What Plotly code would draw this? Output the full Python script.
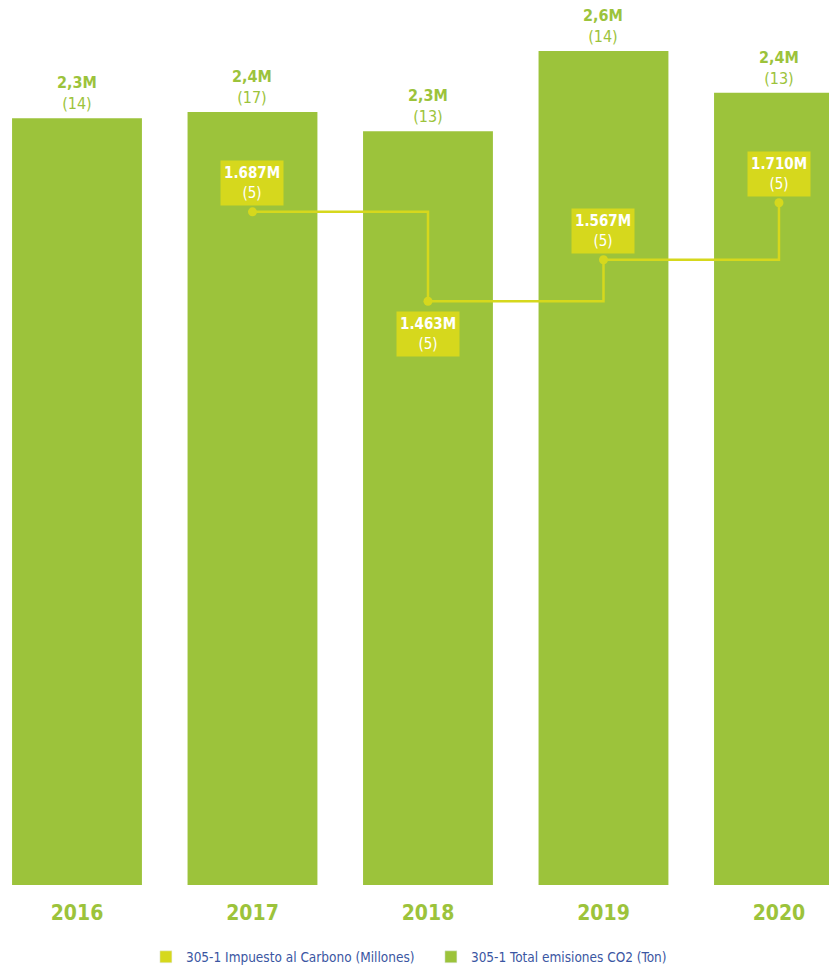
import plotly.graph_objects as go

years = ["2016", "2017", "2018", "2019", "2020"]
# Total CO2 emissions (millions of tons), bar heights
emisiones = [2.39, 2.41, 2.35, 2.60, 2.47]
emisiones_lbl = ["2,3M", "2,4M", "2,3M", "2,6M", "2,4M"]
emisiones_n = ["14", "17", "13", "14", "13"]

# Carbon tax (millions) 2017-2020
impuesto_years = ["2017", "2018", "2019", "2020"]
impuesto = [1.687, 1.463, 1.567, 1.710]
impuesto_lbl = ["1.687M", "1.463M", "1.567M", "1.710M"]
impuesto_n = ["5", "5", "5", "5"]
impuesto_pos = ["above", "below", "above", "above"]

GREEN = "#9cc33b"
YELLOW = "#d6d81d"
FONT = "Liberation Sans Narrow, DejaVu Sans Condensed, Roboto, sans-serif"

xi = list(range(len(years)))
xl = [years.index(y) for y in impuesto_years]

fig = go.Figure()
fig.add_trace(go.Bar(
    x=xi, y=emisiones, width=0.74, marker=dict(color=GREEN, line=dict(width=0)),
    showlegend=False, hoverinfo="skip",
))
fig.add_trace(go.Scatter(
    x=xl, y=impuesto, yaxis="y2", mode="lines+markers",
    line=dict(color=YELLOW, width=2.5, shape="hv"),
    marker=dict(color=YELLOW, size=9), showlegend=False, hoverinfo="skip",
))
# legend entries
fig.add_trace(go.Bar(x=[None], y=[None], name="305-1 Impuesto al Carbono (Millones)",
                     marker_color=YELLOW, legendrank=1))
fig.add_trace(go.Bar(x=[None], y=[None], name="305-1 Total emisiones CO2 (Ton)",
                     marker_color=GREEN, legendrank=2))

for x, v, l, n in zip(xi, emisiones, emisiones_lbl, emisiones_n):
    fig.add_annotation(x=x, y=v, xref="x", yref="y", text=f"<b>{l}</b><br>({n})",
                       showarrow=False, yanchor="bottom", yshift=4, borderpad=0,
                       font=dict(color=GREEN, size=16, family=FONT))

for x, v, l, n, p in zip(xl, impuesto, impuesto_lbl, impuesto_n, impuesto_pos):
    fig.add_annotation(
        x=x, y=v, xref="x", yref="y2", text=f"<b>{l}</b><br>({n})",
        showarrow=False, yanchor="bottom" if p == "above" else "top",
        yshift=6 if p == "above" else -10,
        font=dict(color="white", size=15, family=FONT),
        bgcolor=YELLOW, borderpad=3, align="center",
    )

fig.update_layout(
    width=829, height=967, margin=dict(l=0, r=0, t=0, b=82, autoexpand=False),
    plot_bgcolor="white", paper_bgcolor="white", bargap=0.26,
    font=dict(family=FONT),
    xaxis=dict(range=[-0.4387, 4.285], tickvals=xi, ticktext=[f"<b>{y}</b>" for y in years],
               tickfont=dict(color=GREEN, size=21, family=FONT), showgrid=False,
               zeroline=False, showline=False, ticks="", ticklabelstandoff=13),
    yaxis=dict(range=[0, 2.759], visible=False, showgrid=False, zeroline=False),
    yaxis2=dict(range=[0, 2.218], overlaying="y", visible=False, showgrid=False,
                zeroline=False),
    legend=dict(orientation="h", x=0.176, xanchor="left", y=-0.0814, yanchor="middle",
                font=dict(color="#3b56a2", size=13.5, family=FONT), traceorder="normal",
                itemclick=False, entrywidth=240),
)
fig.write_html("out.html", config={"displayModeBar": False},
               post_script="document.body.style.margin='0';document.body.style.overflow='hidden';")
